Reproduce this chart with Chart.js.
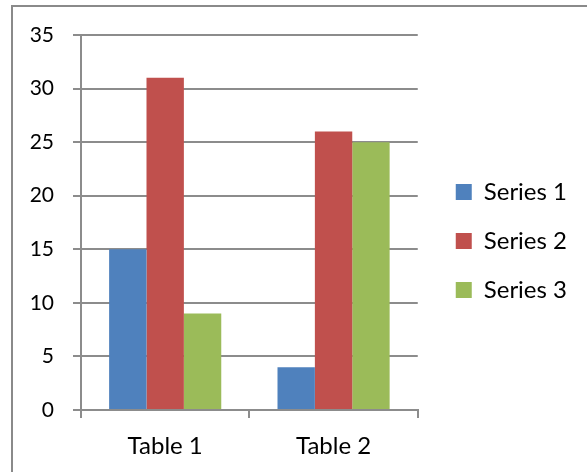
<!DOCTYPE html>
<html>
<head>
<meta charset="utf-8">
<script src="https://cdn.jsdelivr.net/npm/chart.js@4/dist/chart.umd.min.js"></script>
<style>
  html, body { margin: 0; padding: 0; background: #fff; overflow: hidden; }
  #frame {
    position: absolute; left: 11px; top: 5px; width: 600px; height: 500px;
    border-left: 2px solid #8a8a8a; border-top: 2px solid #8a8a8a;
  }
  #wrap { position: absolute; left: 0; top: 0; width: 587px; height: 482px; }
</style>
</head>
<body>
<div id="frame"></div>
<div id="wrap"><canvas id="chart" width="587" height="482"></canvas></div>
<script>
// Categories and series values
const categories = ['Table 1', 'Table 2'];
const series1 = [15, 4];
const series2 = [31, 26];
const series3 = [9, 25];
const seriesNames = ['Series 1', 'Series 2', 'Series 3'];
const seriesColors = ['#4F81BD', '#C0504D', '#9BBB59'];

const AXIS_GRAY = '#8c8c8c';
const FONT = 'Lato, "Open Sans", sans-serif';

const data = {
  labels: categories,
  datasets: [series1, series2, series3].map((vals, i) => ({
    label: seriesNames[i],
    data: vals,
    backgroundColor: seriesColors[i],
    borderWidth: 0,
    categoryPercentage: 0.666,
    barPercentage: 1.0
  }))
};

new Chart(document.getElementById('chart'), {
  type: 'bar',
  data,
  options: {
    responsive: false,
    animation: false,
    devicePixelRatio: 1,
    layout: { padding: { left: -20, top: 0, right: 10, bottom: 0 } },
    plugins: {
      tooltip: { enabled: false },
      legend: {
        position: 'right',
        align: 'center',
        labels: {
          boxWidth: 16,
          boxHeight: 16,
          padding: 25,
          color: '#000',
          font: { family: FONT, size: 24 }
        }
      }
    },
    scales: {
      x: {
        grid: {
          display: true,
          drawOnChartArea: false,
          drawTicks: true,
          tickLength: 8,
          color: AXIS_GRAY,
          lineWidth: 2,
          offset: true
        },
        border: { display: true, color: AXIS_GRAY, width: 2 },
        ticks: { color: '#000', padding: 14, font: { family: FONT, size: 24 } },
        afterFit: (s) => { s.height = 72; }
      },
      y: {
        min: 0,
        max: 35,
        ticks: { stepSize: 5, color: '#000', padding: 19, font: { family: FONT, size: 21 } },
        grid: { color: AXIS_GRAY, lineWidth: 2, tickLength: 8, drawTicks: true },
        border: { display: true, color: AXIS_GRAY, width: 2 },
        afterFit: (s) => { s.width = 101; }
      },
      // hidden axes that only reserve space: above the plot and between plot and legend
      gapTop: {
        type: 'linear',
        position: 'top',
        display: false,
        afterFit: (s) => { s.height = 35; }
      },
      gapRight: {
        type: 'linear',
        position: 'right',
        display: false,
        afterFit: (s) => { s.width = 13; }
      }
    }
  }
});
</script>
</body>
</html>
